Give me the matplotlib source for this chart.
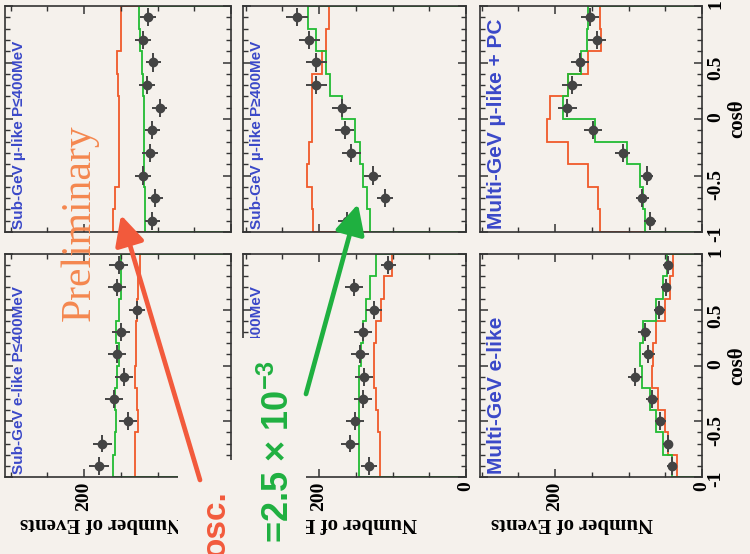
import numpy as np
import matplotlib.pyplot as plt
from matplotlib.patches import Rectangle, FancyArrowPatch
from matplotlib.transforms import Bbox, TransformedBbox

plt.rcParams['mathtext.fontset'] = 'custom'
plt.rcParams['mathtext.rm'] = 'Liberation Sans:bold'
plt.rcParams['mathtext.default'] = 'rm'

W, H = 750, 554
bg = '#f5f1ec'
red = '#f05a2a'
green = '#22bb33'
blue = '#3a48c8'

# zenith angle bins, cos(theta) from -1 to 1
edges = np.linspace(-1, 1, 11)
centers = 0.5 * (edges[:-1] + edges[1:])

# events per bin, ordered from cos = -1 (upward) to cos = +1 (downward)
subgev_mu_low_data = [107, 103, 120, 110, 107, 97, 114, 106, 120, 113]
subgev_mu_low_noosc = [161, 158, 153, 153, 153, 153, 154, 155, 149, 149]
subgev_mu_low_osc = [117, 117, 118, 118, 118, 119, 120, 121, 124, 125]

subgev_e_low_data = [180, 175, 140, 159, 146, 155, 150, 128, 155, 153]
subgev_e_low_noosc = [131, 131, 127, 128, 130, 129, 129, 128, 126, 124]
subgev_e_low_osc = [160, 158, 157, 158, 155, 153, 156, 152, 150, 150]

subgev_mu_high_data = [162, 110, 127, 156, 165, 169, 204, 204, 213, 230]
subgev_mu_high_noosc = [208, 210, 216, 214, 210, 210, 209, 196, 190, 186]
subgev_mu_high_osc = [131, 135, 140, 144, 151, 169, 185, 190, 204, 215]

subgev_e_high_data = [132, 158, 151, 140, 139, 144, 140, 125, 152, 106]
subgev_e_high_noosc = [117, 117, 120, 122, 125, 125, 122, 115, 112, 101]
subgev_e_high_osc = [145, 146, 146, 146, 145, 143, 140, 136, 130, 122]

multigev_mu_data = [71, 81, 75, 108, 148, 183, 177, 166, 143, 152]
multigev_mu_noosc = [139, 142, 155, 182, 211, 207, 182, 155, 138, 139]
multigev_mu_osc = [78, 80, 84, 102, 146, 189, 182, 165, 157, 155]

multigev_e_data = [41, 46, 57, 68, 91, 73, 78, 58, 49, 46]
multigev_e_noosc = [34, 46, 50, 60, 68, 66, 62, 50, 44, 39]
multigev_e_osc = [41, 53, 62, 71, 82, 84, 80, 62, 53, 48]

# (column, row, label, fontsize, data, no-osc MC, osc MC)
panels = [
    (0, 0, 'Sub-GeV µ-like P≤400MeV', 11, subgev_mu_low_data, subgev_mu_low_noosc, subgev_mu_low_osc),
    (0, 1, 'Sub-GeV e-like P≤400MeV', 11, subgev_e_low_data, subgev_e_low_noosc, subgev_e_low_osc),
    (1, 0, 'Sub-GeV µ-like P≥400MeV', 11, subgev_mu_high_data, subgev_mu_high_noosc, subgev_mu_high_osc),
    (1, 1, 'Sub-GeV e-like P≥400MeV', 11, subgev_e_high_data, subgev_e_high_noosc, subgev_e_high_osc),
    (2, 0, 'Multi-GeV µ-like + PC', 15, multigev_mu_data, multigev_mu_noosc, multigev_mu_osc),
    (2, 1, 'Multi-GeV e-like', 15, multigev_e_data, multigev_e_noosc, multigev_e_osc),
]

cols_px = [(5, 231), (243, 466), (480, 702)]
rows_px = [(6, 232), (254, 477)]
px_per_event = 0.735

serif = {'family': 'Liberation Serif', 'weight': 'bold'}


def fx(x):
    return x / W


def fy(y):
    return 1 - y / H


def clip_px(x0, y0, x1, y1):
    # clip box given in pixels from the top-left corner
    return TransformedBbox(Bbox([[fx(x0), fy(y1)], [fx(x1), fy(y0)]]), fig.transFigure)


fig = plt.figure(figsize=(7.5, 5.54), dpi=100, facecolor=bg)

# parts of the lower-left panels are blanked out by the annotation area
label_clips = {(1, 1): (0, 0, W, 338)}
ylabel_clips = {0: (0, 0, 178, H), 1: (306, 0, W, H)}

for col, row, label, lsize, data, noosc, osc in panels:
    x0, x1 = cols_px[col]
    y0, y1 = rows_px[row]
    ax = fig.add_axes([fx(x0), fy(y1), (x1 - x0) / W, (y1 - y0) / H])
    ax.set_facecolor(bg)
    ax.set_xlim((x1 - x0) / px_per_event, 0)
    ax.set_ylim(-1, 1)

    ax.stairs(noosc, edges, orientation='horizontal', baseline=0, color=red, lw=1.3)
    ax.stairs(osc, edges, orientation='horizontal', baseline=0, color=green, lw=1.3)
    d = np.array(data, dtype=float)
    ax.errorbar(d, centers, xerr=np.sqrt(d), yerr=0.08, fmt='o', color='#444444',
                ms=6, elinewidth=1.4, capsize=0, zorder=4)

    t = ax.text(0.03, 0.015, label, transform=ax.transAxes, rotation=90, ha='left', va='bottom',
                color=blue, fontsize=lsize, family='Liberation Sans', weight='bold')
    if (col, row) in label_clips:
        t.set_clip_box(clip_px(*label_clips[(col, row)]))
        t.set_clip_on(True)

    for s in ax.spines.values():
        s.set_color('#333333')
        s.set_linewidth(1.2)
    ax.set_xticks([0, 200])
    ax.set_xticks([50, 100, 150, 250, 300], minor=True)
    ax.set_yticks([-1, -0.5, 0, 0.5, 1])
    ax.set_yticks(np.arange(-0.9, 1.0, 0.1), minor=True)
    ax.tick_params(which='both', direction='in', top=True, bottom=True, left=True, right=True,
                   color='#333333', labelbottom=False, labelleft=False)
    ax.tick_params(which='major', length=6, width=1.1)
    ax.tick_params(which='minor', length=3.5, width=1.0)

    if row == 1:
        ax.tick_params(axis='x', labelbottom=True, labelrotation=90, pad=3)
        ax.set_xticklabels(['0', '200'], fontdict=serif, fontsize=14)
        yl = fig.text(fx(x1 - 130), fy(523), 'Number of Events', rotation=180, ha='center',
                      va='center', fontsize=15, zorder=3, **serif)
        if col in ylabel_clips:
            yl.set_clip_box(clip_px(*ylabel_clips[col]))
            yl.set_clip_on(True)
    if col == 2:
        ax.tick_params(axis='y', labelright=True, labelrotation=90, pad=4)
        ax.set_yticklabels(['-1', '-0.5', '0', '0.5', '1'], fontdict=serif, fontsize=14)
        ax.yaxis.set_label_position('right')
        ax.set_ylabel('cosθ', fontdict=serif, fontsize=15, rotation=90, labelpad=2)

# blank patches over the lower corners
for (xa, ya, xb, yb) in [(178, 460, 306, 554), (236, 338, 306, 554)]:
    fig.add_artist(Rectangle((fx(xa), fy(yb)), (xb - xa) / W, (yb - ya) / H,
                             transform=fig.transFigure, fc=bg, ec='none', zorder=5))

fig.text(fx(80), fy(223), 'Preliminary', rotation=90, ha='center', va='center',
         color='#f4874f', fontsize=30, family='Liberation Serif', zorder=6)

fig.add_artist(FancyArrowPatch((fx(200), fy(480)), (fx(121), fy(215)), transform=fig.transFigure,
                               arrowstyle='-|>,head_length=1.0,head_width=0.5', mutation_scale=18,
                               lw=3.4, color='#f25a3c', shrinkA=0, shrinkB=0, zorder=7))
fig.add_artist(FancyArrowPatch((fx(306), fy(394)), (fx(358), fy(204)), transform=fig.transFigure,
                               arrowstyle='-|>,head_length=1.0,head_width=0.5', mutation_scale=18,
                               lw=3.4, color='#1fb040', shrinkA=0, shrinkB=0, zorder=7))

fig.text(fx(216), fy(490), 'osc.', rotation=90, ha='center', va='top', color='#f25a3c',
         fontsize=24, family='Liberation Sans', weight='bold', zorder=6)
fig.text(fx(279), fy(360), '=2.5 × 10$^{-3}$', rotation=90, ha='center', va='top',
         color='#1fb040', fontsize=26, family='Liberation Sans', weight='bold', zorder=6)

fig.savefig('out.png', dpi=100, facecolor=bg)
